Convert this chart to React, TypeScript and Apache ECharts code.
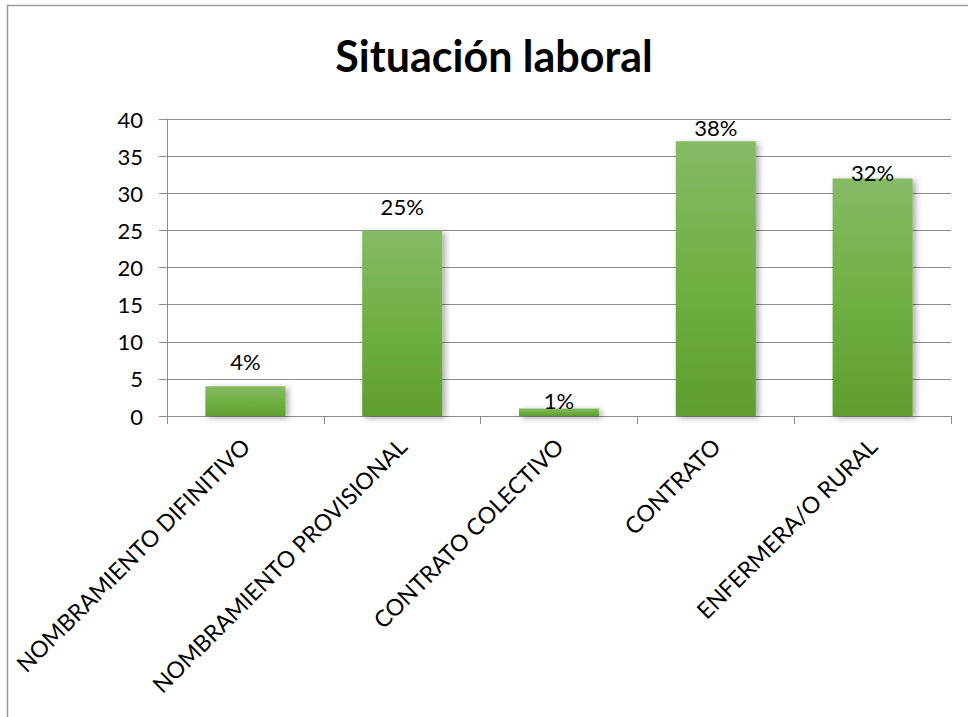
import React, { useEffect, useRef } from "react";
import * as echarts from "echarts";

const categories = [
  "NOMBRAMIENTO DIFINITIVO",
  "NOMBRAMIENTO PROVISIONAL",
  "CONTRATO COLECTIVO",
  "CONTRATO",
  "ENFERMERA/O RURAL",
];
const values = [4, 25, 1, 37, 32];
const pctLabels = ["4%", "25%", "1%", "38%", "32%"];
const yTicks = { min: 0, max: 40, interval: 5 };
// label gap above each bar (style only)
const labelGaps = [14, 13, -3, 3, -5];

const FONT = "Lato, 'Open Sans', 'Noto Sans', sans-serif";

export default function App() {
  const ref = useRef<HTMLDivElement>(null);
  useEffect(() => {
    document.body.style.margin = "0";
    const chart = echarts.init(ref.current!, null, { renderer: "svg" });
    chart.setOption({
      animation: false,
      backgroundColor: "#ffffff",
      title: {
        text: "Situación laboral",
        left: 489,
        top: 29,
        textAlign: "center",
        textStyle: { fontFamily: FONT, fontSize: 43, fontWeight: "bold", color: "#000" },
      },
      graphic: [
        {
          type: "rect",
          shape: { x: 7.5, y: 5.5, width: 1000, height: 1000 },
          style: { fill: "none", stroke: "#9a9a9a", lineWidth: 1.5 },
          silent: true,
        },
      ],
      grid: { left: 167, right: 17, top: 119, bottom: 301, containLabel: false },
      xAxis: {
        type: "category",
        data: categories,
        axisLine: { show: true, lineStyle: { color: "#8c8c8c", width: 1 } },
        axisTick: { show: true, length: 8, lineStyle: { color: "#8c8c8c" } },
        axisLabel: {
          rotate: 45,
          interval: 0,
          margin: 26,
          fontFamily: FONT,
          fontSize: 23,
          color: "#000",
        },
        splitLine: { show: false },
      },
      yAxis: {
        type: "value",
        min: yTicks.min,
        max: yTicks.max,
        interval: yTicks.interval,
        axisLine: { show: true, lineStyle: { color: "#8c8c8c", width: 1 } },
        axisTick: { show: true, length: 8, lineStyle: { color: "#8c8c8c" } },
        axisLabel: { margin: 24, fontFamily: FONT, fontSize: 22, color: "#000" },
        splitLine: { show: true, lineStyle: { color: "#8c8c8c", width: 1 } },
      },
      series: [
        {
          type: "bar",
          data: values.map((v, i) => ({ value: v, label: { distance: labelGaps[i] } })),
          barWidth: 80,
          itemStyle: {
            color: new echarts.graphic.LinearGradient(0, 0, 0, 1, [
              { offset: 0, color: "#86ba66" },
              { offset: 0.5, color: "#6fb043" },
              { offset: 1, color: "#5e9e2f" },
            ]),
            shadowBlur: 6,
            shadowOffsetX: 3,
            shadowOffsetY: 2,
            shadowColor: "rgba(0,0,0,0.35)",
          },
          label: {
            show: true,
            position: "top",
            fontFamily: FONT,
            fontSize: 22,
            color: "#000",
            formatter: (p: any) => pctLabels[p.dataIndex],
          },
        },
      ],
    });
    return () => chart.dispose();
  }, []);
  return <div ref={ref} style={{ width: 968, height: 717 }} />;
}
